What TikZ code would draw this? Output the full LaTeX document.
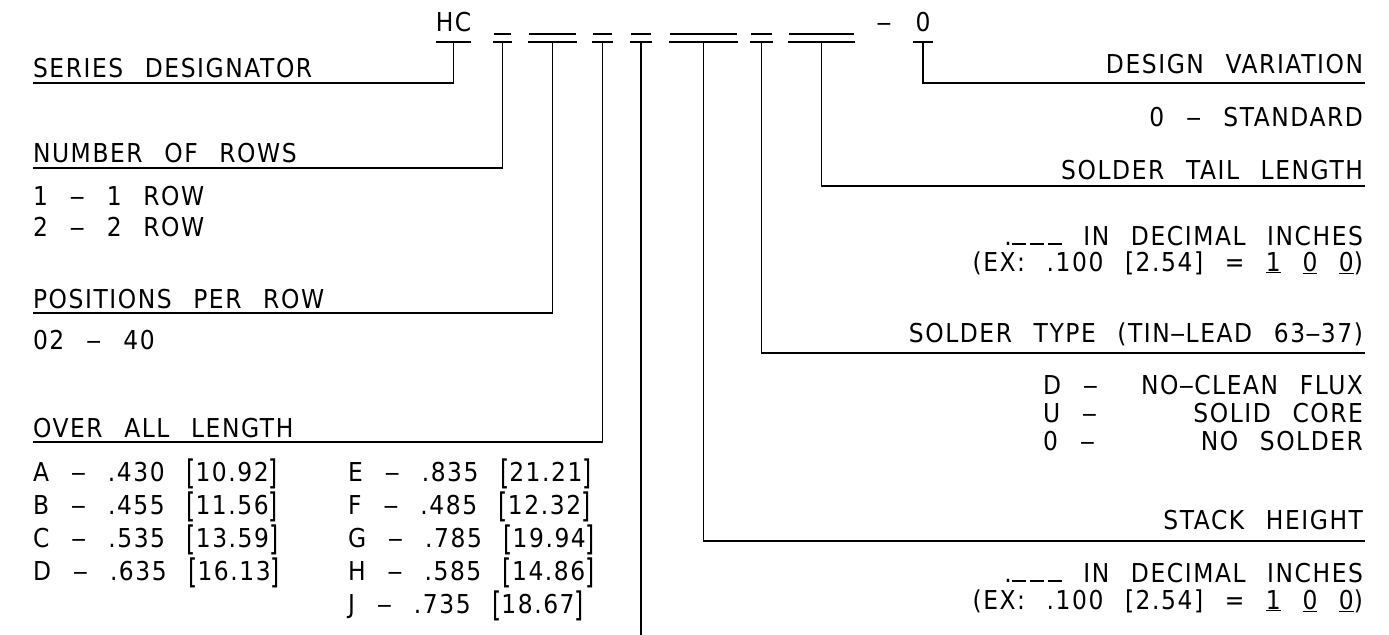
\documentclass[tikz,border=0pt]{standalone}
\usepackage{fontspec}
\usepackage{graphicx}
\setmainfont{DejaVu Sans}[LetterSpace=6,WordSpace=2.4,FakeStretch=0.9]
\newcommand\tlb{\raisebox{-0.14em}{\scalebox{1}[1.3]{[}}}
\newcommand\trb{\raisebox{-0.14em}{\scalebox{1}[1.3]{]}}}
\newcommand\us{\rule{14bp}{1.6bp}\kern4bp\rule{14bp}{1.6bp}\kern4bp\rule{14bp}{1.6bp}}
\newcommand\dd{\scalebox{1.35}[1]{–}}
\begin{document}
\begin{tikzpicture}[x=1bp,y=-1bp,line width=1.6bp,
  lbl/.style={inner sep=0pt,outer sep=0pt,font=\fontsize{26bp}{30bp}\selectfont},
  lw/.style={lbl,anchor=base west},
  le/.style={lbl,anchor=base east},
  blank/.style={inner sep=0pt,outer sep=0pt,minimum height=8bp,minimum width=#1}]
\useasboundingbox (0,0) rectangle (1389,635);

% ---- part number header ----
\node[lbl,anchor=base] (hct) at (453.5,32) {HC};
\node[lbl,anchor=base] (dsh) at (884,32) {\dd};
\node[lbl,anchor=base] (zt) at (923,32) {0};

\node[blank=35bp] (hc) at (453.5,38) {};
\node[blank=19bp] (b1) at (502.5,38) {};
\node[blank=49bp] (b2) at (552.5,38) {};
\node[blank=21bp] (b3) at (602.5,38) {};
\node[blank=22bp] (b4) at (641,38) {};
\node[blank=69bp] (b5) at (703.5,38) {};
\node[blank=23bp] (b6) at (761.5,38) {};
\node[blank=67bp] (b7) at (821.5,38) {};
\node[blank=20bp] (z) at (923,38) {};

\foreach \n in {hc,z}{\draw (\n.south west) -- (\n.south east);}
\foreach \n in {b1,b2,b3,b4,b5,b6,b7}{
  \draw (\n.south west) -- (\n.south east);
  \draw ([xshift=1bp]\n.north west) -- ([xshift=-1bp]\n.north east);}

% ---- left labels ----
\node[lw] (sd) at (33,77.5) {SERIES DESIGNATOR};
\coordinate (sdl) at (33,83);
\node[lw] (nr) at (33,162.5) {NUMBER OF ROWS};
\coordinate (nrl) at (33,168);
\node[lw] (r1) at (33,205.5) {1 \dd\ 1 ROW};
\node[lw] (r2) at (33,236.5) {2 \dd\ 2 ROW};
\node[lw] (pp) at (33,308) {POSITIONS PER ROW};
\coordinate (ppl) at (33,313);
\node[lw] (p1) at (33,349.5) {02 \dd\ 40};
\node[lw] (ol) at (33,437.5) {OVER ALL LENGTH};
\coordinate (oll) at (33,442);

\node[lw] (ta) at (33,481) {A \dd\ .430 \tlb10.92\trb};
\node[lw] (tb) at (33,514) {B \dd\ .455 \tlb11.56\trb};
\node[lw] (tc) at (33,547) {C \dd\ .535 \tlb13.59\trb};
\node[lw] (td) at (33,580) {D \dd\ .635 \tlb16.13\trb};
\node[lw] (te) at (348,481) {E \dd\ .835 \tlb21.21\trb};
\node[lw] (tf) at (348,514) {F \dd\ .485 \tlb12.32\trb};
\node[lw] (tg) at (348,547) {G \dd\ .785 \tlb19.94\trb};
\node[lw] (th) at (348,580) {H \dd\ .585 \tlb14.86\trb};
\node[lw] (tj) at (348,613) {J \dd\ .735 \tlb18.67\trb};

% ---- right labels ----
\node[le] (dv) at (1363,74) {DESIGN VARIATION};
\coordinate (dvl) at (1365,83);
\node[le] (dv1) at (1363,126.5) {0 \dd\ STANDARD};
\node[le] (st) at (1363,180) {SOLDER TAIL LENGTH};
\coordinate (stl) at (1365,186);
\node[le] (st1) at (1363,245) {.\us\ IN DECIMAL INCHES};
\node[le] (st2) at (1363,271) {(EX: .100 [2.54] = \underline{1} \underline{0} \underline{0})};
\node[le] (sy) at (1363,342) {SOLDER TYPE (TIN\dd LEAD 63\dd 37)};
\coordinate (syl) at (1365,353);
\node[lw] (sya) at (1043,394) {D \dd};
\node[le] (syb) at (1363,394) {NO\dd CLEAN FLUX};
\node[lw] (syc) at (1043,422) {U \dd};
\node[le] (syd) at (1363,422) {SOLID CORE};
\node[lw] (sye) at (1043,450) {0 \dd};
\node[le] (syf) at (1363,450) {NO SOLDER};
\node[le] (sh) at (1363,529) {STACK HEIGHT};
\coordinate (shl) at (1365,541);
\node[le] (sh1) at (1363,582) {.\us\ IN DECIMAL INCHES};
\node[le] (sh2) at (1363,609) {(EX: .100 [2.54] = \underline{1} \underline{0} \underline{0})};

\coordinate (bot) at (641,635);

% ---- leaders ----
\draw (hc.south) |- (sdl);
\draw (b1.south) |- (nrl);
\draw (b2.south) |- (ppl);
\draw (b3.south) |- (oll);
\draw (b4.south) -- (bot);
\draw (b5.south) |- (shl);
\draw (b6.south) |- (syl);
\draw (b7.south) |- (stl);
\draw (z.south) |- (dvl);
\end{tikzpicture}
\end{document}
